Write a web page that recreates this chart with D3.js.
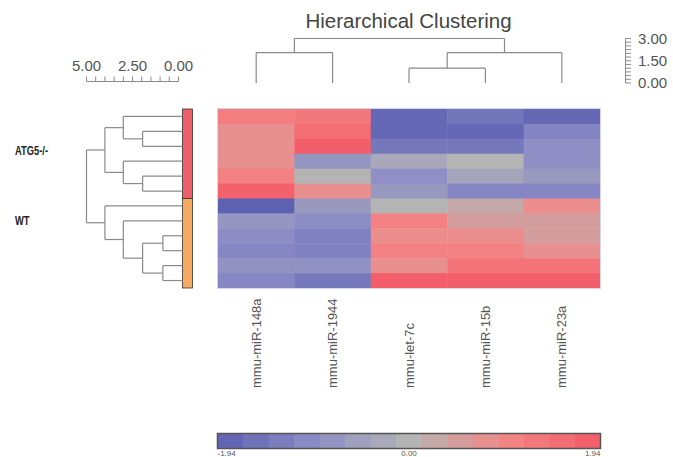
<!DOCTYPE html>
<html>
<head>
<meta charset="utf-8">
<script src="https://cdn.jsdelivr.net/npm/d3@7"></script>
<style>
  body { margin: 0; background: #fff; }
  svg { display: block; font-family: "Liberation Sans", Arial, sans-serif; }
</style>
</head>
<body>
<svg width="673" height="457"></svg>
<script>
// ---- data ----
var columns = ["mmu-miR-148a", "mmu-miR-1944", "mmu-let-7c", "mmu-miR-15b", "mmu-miR-23a"];
var groups = ["ATG5-/-", "WT"];
var rowGroup = [0, 0, 0, 0, 0, 0, 1, 1, 1, 1, 1, 1];

// normalised expression, one row per sample (top to bottom)
var expression = [
  [ 1.20,  1.30, -1.75, -1.45, -1.75],
  [ 0.80,  1.55, -1.75, -1.75, -1.15],
  [ 0.80,  1.85, -1.40, -1.40, -0.90],
  [ 0.80, -0.75, -0.30,  0.00, -0.90],
  [ 1.10,  0.00, -0.90, -0.40, -0.65],
  [ 1.80,  0.80, -0.65, -1.10, -1.10],
  [-1.90, -0.65,  0.00,  0.25,  0.85],
  [-0.75, -0.95,  1.10,  0.50,  0.50],
  [-0.95, -1.20,  0.85,  0.85,  0.50],
  [-1.10, -1.20,  1.10,  1.10,  0.80],
  [-0.85, -0.85,  0.80,  1.40,  1.40],
  [-1.10, -1.40,  1.85,  1.85,  1.85]
];

// dendrograms: leaf = row/column index, node = {h: merge height, c: children}
var rowTree = {h: 5, c: [
  {h: 4, c: [
    {h: 3, c: [0, {h: 1.95, c: [1, 2]}]},
    {h: 3, c: [3, {h: 1.95, c: [4, 5]}]}
  ]},
  {h: 4, c: [6,
    {h: 3, c: [7, {h: 1.95, c: [{h: 0.85, c: [8, 9]}, {h: 0.85, c: [10, 11]}]}]}
  ]}
]};
var colTree = {h: 3, c: [
  {h: 2.05, c: [0, 1]},
  {h: 2.05, c: [{h: 1, c: [2, 3]}, 4]}
]};

var rowTicks = [5, 2.5, 0];
var colTicks = [3, 1.5, 0];
var colorLimits = [-1.94, 0, 1.94];

// ---- scales ----
var svg = d3.select("svg");

var x = d3.scaleBand().domain(d3.range(columns.length)).range([218, 600]);
var y = d3.scaleBand().domain(d3.range(expression.length)).range([109, 288]);

var color = d3.scaleLinear()
  .domain([-1.94, -0.97, 0, 0.97, 1.94])
  .range(["#5b5fb0", "#8c8cc6", "#b4b4b4", "#f38787", "#f25b67"]);

var rowDist = d3.scaleLinear().domain([0, 5]).range([178.5, 86.5]);
var colDist = d3.scaleLinear().domain([0, 3]).range([83, 38.5]);

var lineColor = "#8a8a8a";

// ---- title ----
svg.append("text")
  .attr("x", 408.5).attr("y", 28)
  .attr("text-anchor", "middle")
  .attr("font-size", 20.5)
  .attr("fill", "#444")
  .text("Hierarchical Clustering");

// ---- heatmap ----
var cells = [];
expression.forEach(function (row, i) {
  row.forEach(function (v, j) { cells.push({r: i, c: j, v: v}); });
});

svg.append("g").selectAll("rect")
  .data(cells).enter()
  .append("rect")
  .attr("x", function (d) { return x(d.c); })
  .attr("y", function (d) { return y(d.r); })
  .attr("width", x.bandwidth() + 0.5)
  .attr("height", y.bandwidth() + 0.5)
  .attr("fill", function (d) { return color(d.v); });

svg.append("rect")
  .attr("x", x.range()[0] - 0.5).attr("y", y.range()[0] - 0.5)
  .attr("width", x.range()[1] - x.range()[0] + 1)
  .attr("height", y.range()[1] - y.range()[0] + 1)
  .attr("fill", "none")
  .attr("stroke", "#d3d6ee");

// ---- group bar ----
svg.append("g").selectAll("rect")
  .data(groups).enter()
  .append("rect")
  .attr("x", 182.5)
  .attr("y", function (g, k) { return y(rowGroup.indexOf(k)); })
  .attr("width", 10)
  .attr("height", function (g, k) {
    return rowGroup.filter(function (r) { return r === k; }).length * y.bandwidth();
  })
  .attr("fill", function (g, k) { return k === 0 ? "#f0606b" : "#f6aa62"; })
  .attr("stroke", "#333")
  .attr("stroke-width", 0.8);

svg.append("g").selectAll("text")
  .data(groups).enter()
  .append("text")
  .attr("x", 15)
  .attr("y", function (g, k) { return k === 0 ? 155 : 225; })
  .attr("font-size", 13.5)
  .attr("font-weight", "bold")
  .attr("fill", "#222")
  .attr("textLength", function (g) { return g.length > 2 ? 33 : 14.5; })
  .attr("lengthAdjust", "spacingAndGlyphs")
  .text(function (g) { return g; });

// ---- dendrograms ----
function drawTree(tree, leafPos, dist, leafEnd, horizontal) {
  var root = d3.hierarchy(tree, function (d) { return typeof d === "number" ? null : d.c; });
  root.eachAfter(function (n) {
    if (n.children) {
      n.pos = d3.mean(n.children, function (ch) { return ch.pos; });
      n.at = dist(n.data.h);
    } else {
      n.pos = leafPos(n.data);
      n.at = leafEnd;
    }
  });
  var segs = [];
  root.each(function (n) {
    if (!n.children) return;
    var a = n.children[0].pos, b = n.children[n.children.length - 1].pos;
    segs.push([n.at, a, n.at, b]);
    n.children.forEach(function (ch) { segs.push([n.at, ch.pos, ch.at, ch.pos]); });
  });
  svg.append("g").selectAll("line")
    .data(segs).enter()
    .append("line")
    .attr(horizontal ? "x1" : "y1", function (s) { return s[0]; })
    .attr(horizontal ? "y1" : "x1", function (s) { return s[1]; })
    .attr(horizontal ? "x2" : "y2", function (s) { return s[2]; })
    .attr(horizontal ? "y2" : "x2", function (s) { return s[3]; })
    .attr("stroke", lineColor)
    .attr("stroke-width", 1.2);
}

drawTree(rowTree, function (i) { return y(i) + y.bandwidth() / 2; }, rowDist, 182.5, true);
drawTree(colTree, function (j) { return x(j) + x.bandwidth() / 2; }, colDist, colDist(0), false);

// ---- distance rulers ----
var rowRuler = svg.append("g");
rowRuler.append("line")
  .attr("x1", rowDist(5)).attr("x2", rowDist(0))
  .attr("y1", 81.5).attr("y2", 81.5)
  .attr("stroke", lineColor);
rowRuler.selectAll(".tick")
  .data(d3.range(0, 5.01, 0.5)).enter()
  .append("line")
  .attr("x1", function (d) { return rowDist(d); })
  .attr("x2", function (d) { return rowDist(d); })
  .attr("y1", 76.5).attr("y2", 81.5)
  .attr("stroke", lineColor);
rowRuler.selectAll("text")
  .data(rowTicks).enter()
  .append("text")
  .attr("x", function (d) { return rowDist(d); })
  .attr("y", 71)
  .attr("text-anchor", "middle")
  .attr("font-size", 15)
  .attr("fill", "#555")
  .text(function (d) { return d.toFixed(2); });

var colRuler = svg.append("g");
colRuler.append("line")
  .attr("x1", 625.5).attr("x2", 625.5)
  .attr("y1", colDist(3)).attr("y2", colDist(0))
  .attr("stroke", lineColor);
colRuler.selectAll(".tick")
  .data(d3.range(0, 3.01, 0.25)).enter()
  .append("line")
  .attr("x1", 625.5).attr("x2", 631)
  .attr("y1", function (d) { return colDist(d); })
  .attr("y2", function (d) { return colDist(d); })
  .attr("stroke", lineColor);
colRuler.selectAll("text")
  .data(colTicks).enter()
  .append("text")
  .attr("x", 638)
  .attr("y", function (d) { return colDist(d); })
  .attr("dy", "0.36em")
  .attr("font-size", 15)
  .attr("fill", "#555")
  .text(function (d) { return d.toFixed(2); });

// ---- column labels ----
svg.append("g").selectAll("text")
  .data(columns).enter()
  .append("text")
  .attr("transform", function (d, j) {
    return "translate(" + (x(j) + x.bandwidth() / 2 + 4.5) + ",388) rotate(-90)";
  })
  .attr("font-size", 13)
  .attr("fill", "#555")
  .text(function (d) { return d; });

// ---- colour key ----
var steps = 15;
var keyX = d3.scaleLinear().domain([-1.94, 1.94]).range([217.5, 600.5]);
var stepW = (colorLimits[2] - colorLimits[0]) / steps;
svg.append("g").selectAll("rect")
  .data(d3.range(steps)).enter()
  .append("rect")
  .attr("x", function (i) { return keyX(colorLimits[0] + i * stepW); })
  .attr("y", 433.5)
  .attr("width", keyX(stepW) - keyX(0) + 0.5)
  .attr("height", 15)
  .attr("fill", function (i) { return color(colorLimits[0] + (i + 0.5) * stepW); });
svg.append("rect")
  .attr("x", keyX(-1.94)).attr("y", 433.5)
  .attr("width", keyX(1.94) - keyX(-1.94)).attr("height", 15)
  .attr("fill", "none")
  .attr("stroke", "#555")
  .attr("stroke-width", 1.5);
svg.append("g").selectAll("text")
  .data(colorLimits).enter()
  .append("text")
  .attr("x", function (d) { return keyX(d); })
  .attr("y", 456)
  .attr("text-anchor", function (d, i) { return ["start", "middle", "end"][i]; })
  .attr("font-size", 8)
  .attr("fill", "#555")
  .text(function (d) { return d.toFixed(2); });
</script>
</body>
</html>
